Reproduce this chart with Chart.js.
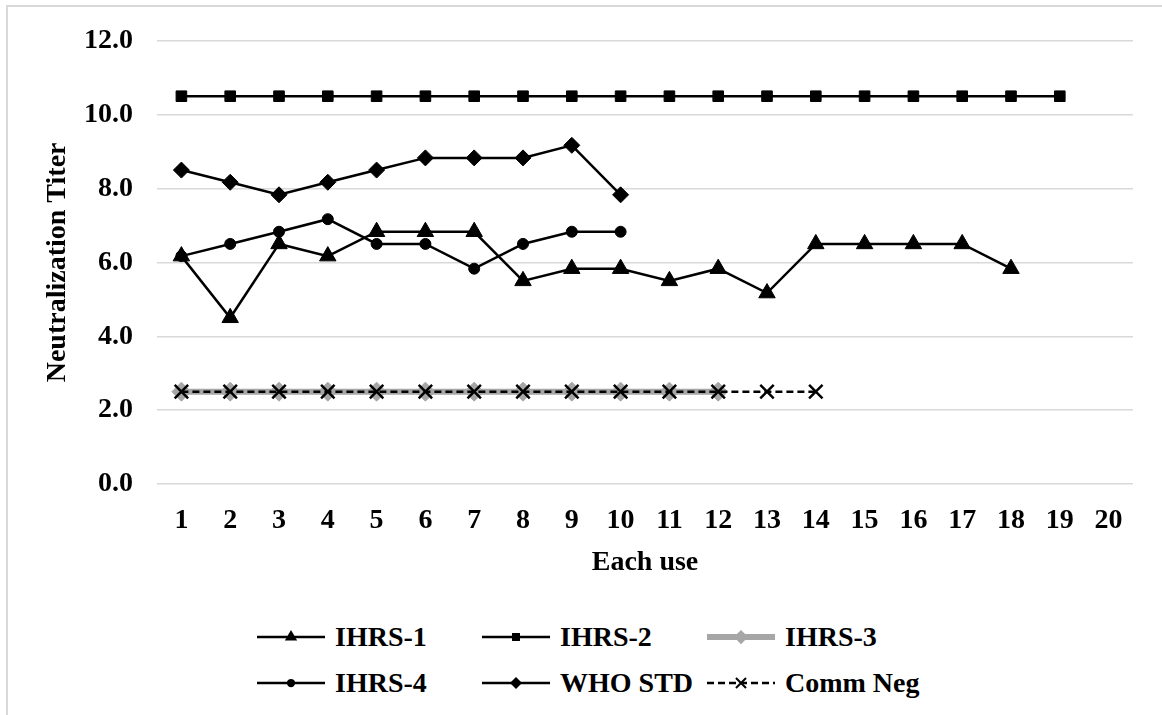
<!DOCTYPE html>
<html>
<head>
<meta charset="utf-8">
<script src="https://cdn.jsdelivr.net/npm/chart.js"></script>
<style>
html,body{margin:0;padding:0;background:#fff;}
body{width:1162px;height:715px;overflow:hidden;position:relative;font-family:"Liberation Serif","Times New Roman",serif;}
#frame{position:absolute;left:6px;top:5px;width:1200px;height:800px;border-left:2px solid #d9d9d9;border-top:2px solid #d9d9d9;}
#wrap{position:absolute;left:0;top:0;width:1162px;height:600px;}
.item{position:absolute;display:flex;align-items:center;font-weight:bold;font-size:28px;color:#000;white-space:nowrap;height:40px;}
.item canvas{margin-right:10px;}
</style>
</head>
<body>
<div id="frame"></div>
<div id="wrap"><canvas id="chart1"></canvas></div>
<div id="legend"></div>
<script>
// x categories
var uses = ['1','2','3','4','5','6','7','8','9','10','11','12','13','14','15','16','17','18','19','20'];

// series values
var ihrs1 = [6.17, 4.5, 6.5, 6.17, 6.83, 6.83, 6.83, 5.5, 5.83, 5.83, 5.5, 5.83, 5.17, 6.5, 6.5, 6.5, 6.5, 5.83];
var ihrs2 = [10.5, 10.5, 10.5, 10.5, 10.5, 10.5, 10.5, 10.5, 10.5, 10.5, 10.5, 10.5, 10.5, 10.5, 10.5, 10.5, 10.5, 10.5, 10.5];
var ihrs3 = [2.5, 2.5, 2.5, 2.5, 2.5, 2.5, 2.5, 2.5, 2.5, 2.5, 2.5, 2.5];
var ihrs4 = [6.17, 6.5, 6.83, 7.17, 6.5, 6.5, 5.83, 6.5, 6.83, 6.83];
var whoStd = [8.5, 8.17, 7.83, 8.17, 8.5, 8.83, 8.83, 8.83, 9.17, 7.83];
var commNeg = [2.5, 2.5, 2.5, 2.5, 2.5, 2.5, 2.5, 2.5, 2.5, 2.5, 2.5, 2.5, 2.5, 2.5];

var yMin = 0, yMax = 12, yStep = 2;

var FONT = '"Liberation Serif", "Times New Roman", serif';
var GRAY = '#a6a6a6';

function blackLine(label, data, style, radius){
  return {
    label: label,
    data: data,
    borderColor: '#000',
    backgroundColor: '#000',
    borderWidth: 2.5,
    pointStyle: style,
    pointRadius: radius,
    pointHoverRadius: radius,
    pointBorderWidth: 1,
    pointBackgroundColor: '#000',
    pointBorderColor: '#000',
    tension: 0,
    fill: false
  };
}

var ds1 = blackLine('IHRS-1', ihrs1, 'triangle', 9.5);
var ds2 = blackLine('IHRS-2', ihrs2, 'rect', 7.5);
var ds3 = {
  label: 'IHRS-3', data: ihrs3,
  borderColor: GRAY, backgroundColor: GRAY, borderWidth: 6,
  pointStyle: 'rectRot', pointRadius: 9.5, pointHoverRadius: 9.5,
  pointBackgroundColor: GRAY, pointBorderColor: GRAY, pointBorderWidth: 1,
  tension: 0, fill: false
};
var ds4 = blackLine('IHRS-4', ihrs4, 'circle', 5.5);
var ds5 = blackLine('WHO STD', whoStd, 'rectRot', 8);
var ds6 = {
  label: 'Comm Neg', data: commNeg,
  borderColor: '#000', backgroundColor: '#000', borderWidth: 2.5,
  borderDash: [7, 4],
  pointStyle: 'crossRot', pointRadius: 9.5, pointHoverRadius: 9.5,
  pointBorderColor: '#000', pointBorderWidth: 2.5,
  tension: 0, fill: false,
  order: -1
};

var ctx = document.getElementById('chart1').getContext('2d');
var myChart = new Chart(ctx, {
  type: 'line',
  data: {
    labels: uses,
    datasets: [ds1, ds2, ds3, ds4, ds5, ds6]
  },
  options: {
    responsive: true,
    maintainAspectRatio: false,
    animation: false,
    layout: { padding: { top: 34, right: 29, left: 0, bottom: 0 } },
    plugins: {
      legend: { display: false },
      tooltip: { enabled: false }
    },
    scales: {
      x: {
        type: 'category',
        offset: true,
        grid: { display: false, drawTicks: false },
        border: { display: false },
        ticks: { color: '#000', padding: 20, maxRotation: 0, autoSkip: false,
                 font: { family: FONT, size: 28, weight: 'bold' } },
        title: { display: true, text: 'Each use', color: '#000',
                 padding: { top: 0, bottom: 20 },
                 font: { family: FONT, size: 28, weight: 'bold' } },
        afterFit: function(scale){ scale.height = 116; }
      },
      y: {
        min: yMin, max: yMax,
        grid: { color: '#d9d9d9', lineWidth: 1.5, drawTicks: false },
        border: { display: false },
        ticks: { stepSize: yStep, color: '#000', padding: 24,
                 font: { family: FONT, size: 28, weight: 'bold' },
                 callback: function(v){ return Number(v).toFixed(1); } },
        title: { display: true, text: 'Neutralization Titer', color: '#000',
                 padding: { top: 41, bottom: 0 },
                 font: { family: FONT, size: 28, weight: 'bold' } },
        afterFit: function(scale){ scale.width = 157; }
      }
    }
  }
});

// legend (html, 3 columns like the original)
var colX = [257, 482, 707];
var rowY = [637, 683];

function drawMarker(c, style, x, y, r, color){
  c.fillStyle = color; c.strokeStyle = color;
  c.setLineDash([]);
  c.beginPath();
  if (style === 'triangle'){
    c.moveTo(x, y - r); c.lineTo(x + 0.866*r, y + 0.5*r); c.lineTo(x - 0.866*r, y + 0.5*r); c.closePath(); c.fill();
  } else if (style === 'rect'){
    var s = 0.707*r; c.rect(x - s, y - s, 2*s, 2*s); c.fill();
  } else if (style === 'circle'){
    c.arc(x, y, r, 0, Math.PI*2); c.fill();
  } else if (style === 'rectRot'){
    c.moveTo(x, y - r); c.lineTo(x + r, y); c.lineTo(x, y + r); c.lineTo(x - r, y); c.closePath(); c.fill();
  } else if (style === 'crossRot'){
    var o = 0.707*r; c.lineWidth = 2;
    c.moveTo(x - o, y - o); c.lineTo(x + o, y + o); c.moveTo(x + o, y - o); c.lineTo(x - o, y + o); c.stroke();
  }
}

var legendDs = [ds1, ds2, ds3, ds4, ds5, ds6];
var box = document.getElementById('legend');
legendDs.forEach(function(d, i){
  var item = document.createElement('div');
  item.className = 'item';
  item.style.left = colX[i % 3] + 'px';
  item.style.top = (rowY[Math.floor(i / 3)] - 20) + 'px';
  var cv = document.createElement('canvas');
  cv.width = 68; cv.height = 30;
  var c = cv.getContext('2d');
  c.strokeStyle = d.borderColor;
  c.lineWidth = d.borderWidth;
  c.setLineDash(d.borderDash || []);
  c.beginPath(); c.moveTo(0, 15); c.lineTo(68, 15); c.stroke();
  drawMarker(c, d.pointStyle, 34, 15, d.pointRadius * 0.75, d.pointBackgroundColor || d.borderColor);
  var t = document.createElement('span');
  t.textContent = d.label;
  item.appendChild(cv);
  item.appendChild(t);
  box.appendChild(item);
});
</script>
</body>
</html>
